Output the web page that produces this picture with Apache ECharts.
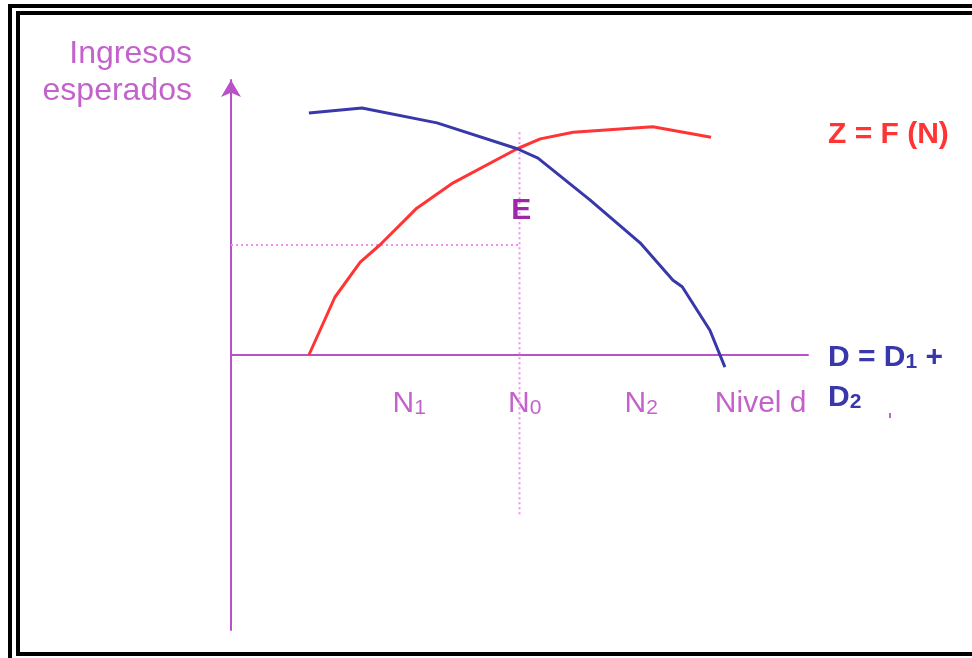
<!DOCTYPE html>
<html>
<head>
<meta charset="utf-8">
<script src="https://cdn.jsdelivr.net/npm/echarts@6/dist/echarts.min.js"></script>
<style>
  html, body { margin: 0; padding: 0; background: #fff; }
  #main { width: 972px; height: 658px; }
</style>
</head>
<body>
<div id="main"></div>
<script>
// curve Z = F(N) (x = employment level, y = expected income)
var supplyZ = [[13.5, 0], [18.0, 10.5], [22.4, 16.9], [25.8, 20.0], [32.2, 26.7],
    [38.5, 31.3], [49.6, 37.5], [53.6, 39.3], [59.3, 40.5], [73.1, 41.5], [83.2, 39.6]];
// curve D = D1 + D2
var demandD = [[13.5, 44.0], [22.7, 44.9], [35.7, 42.2], [49.6, 37.5], [53.2, 35.8],
    [62.2, 28.2], [70.9, 20.4], [76.6, 13.6], [78.2, 12.4], [83.0, 4.5], [85.6, -2.2]];
// guide lines through the equilibrium point
var guideV = [[50, 40.5], [50, -29]];
var guideH = [[0, 20], [50, 20]];
var pointE = [[50.3, 26.3]];
// x tick labels
var tickValues = [30.9, 50.9, 71.1, 91.8];
var tickLabels = ['{n|N}{s|1}', '{n|N}{s|0}', '{n|N}{s|2}', '{n|Nivel d}'];

var purple = '#b852c8';
var lilac = '#c462cc';
var blue = '#3838aa';
var red = '#ff3434';
var font = '"Liberation Sans", Arial, sans-serif';

option = {
animation: false,
backgroundColor: '#fff',
grid: {
    left: 231,
    right: 164,
    top: 80,
    bottom: 28,
    outerBoundsMode: 'none'
},
xAxis: {
    type: 'value',
    min: 0,
    max: 100,
    splitLine: { show: false },
    axisTick: { show: false },
    // move the whole axis (line + labels) up to y = 0
    offset: -275,
    axisLine: {
        onZero: false,
        lineStyle: { color: purple, width: 2 }
    },
    axisLabel: {
        customValues: tickValues,
        margin: 34,
        color: lilac,
        formatter: function (val) {
            var i = tickValues.indexOf(val);
            return i < 0 ? '' : tickLabels[i];
        },
        rich: {
            n: { fontFamily: font, fontSize: 30, color: lilac, lineHeight: 30, verticalAlign: 'bottom' },
            s: { fontFamily: font, fontSize: 21, color: lilac, lineHeight: 24, verticalAlign: 'bottom' }
        }
    }
},
yAxis: {
    type: 'value',
    min: -50,
    max: 50,
    splitLine: { show: false },
    axisTick: { show: false },
    axisLabel: { show: false },
    axisLine: {
        show: true,
        onZero: false,
        symbol: ['none', 'arrow'],
        symbolSize: [15, 17],
        lineStyle: { color: purple, width: 2 }
    }
},
series: [{
    type: 'line',
    data: guideV,
    symbol: 'none',
    lineStyle: { color: '#f290f2', width: 2, type: [2, 3] },
    z: 1
}, {
    type: 'line',
    data: guideH,
    symbol: 'none',
    lineStyle: { color: '#f290f2', width: 2, type: [2, 3] },
    z: 1
}, {
    name: 'D = D1 + D2',
    type: 'line',
    data: demandD,
    symbol: 'none',
    lineStyle: { color: blue, width: 3 },
    z: 3
}, {
    name: 'Z = F (N)',
    type: 'line',
    data: supplyZ,
    symbol: 'none',
    lineStyle: { color: red, width: 3 },
    z: 2
}, {
    type: 'scatter',
    data: pointE,
    symbolSize: 1,
    itemStyle: { color: 'rgba(0,0,0,0)' },
    label: {
        show: true,
        position: 'inside',
        formatter: 'E',
        fontFamily: font,
        fontSize: 30,
        fontWeight: 'bold',
        opacity: 1,
        color: '#9a28a8'
    }
}],
graphic: [
    // double frame
    { type: 'rect', shape: { x: 10, y: 6, width: 1000, height: 1000 },
      style: { fill: 'none', stroke: '#000', lineWidth: 4 } },
    { type: 'rect', shape: { x: 18, y: 13, width: 1000, height: 641 },
      style: { fill: 'none', stroke: '#000', lineWidth: 4 } },
    { type: 'text', right: 780, top: 38,
      style: { text: 'Ingresos', fill: lilac, font: '32px ' + font } },
    { type: 'text', right: 780, top: 75,
      style: { text: 'esperados', fill: lilac, font: '32px ' + font } },
    { type: 'text', left: 828, top: 120,
      style: { text: 'Z = F (N)', fill: red, font: 'bold 30px ' + font, lineHeight: 30 } },
    { type: 'text', left: 828, top: 343,
      style: {
        text: '{b|D = D}{s|1}{b| +}\n{b|D}{s|2}',
        rich: {
            b: { fontFamily: font, fontSize: 30, fontWeight: 'bold', fill: blue, lineHeight: 40, verticalAlign: 'bottom' },
            s: { fontFamily: font, fontSize: 21, fontWeight: 'bold', fill: blue, lineHeight: 32, verticalAlign: 'bottom' }
        }
      } },
    { type: 'rect', shape: { x: 889, y: 413, width: 2, height: 5 }, style: { fill: lilac } }
]
};
var myChart = echarts.init(document.getElementById('main'));
myChart.setOption(option);
</script>
</body>
</html>
